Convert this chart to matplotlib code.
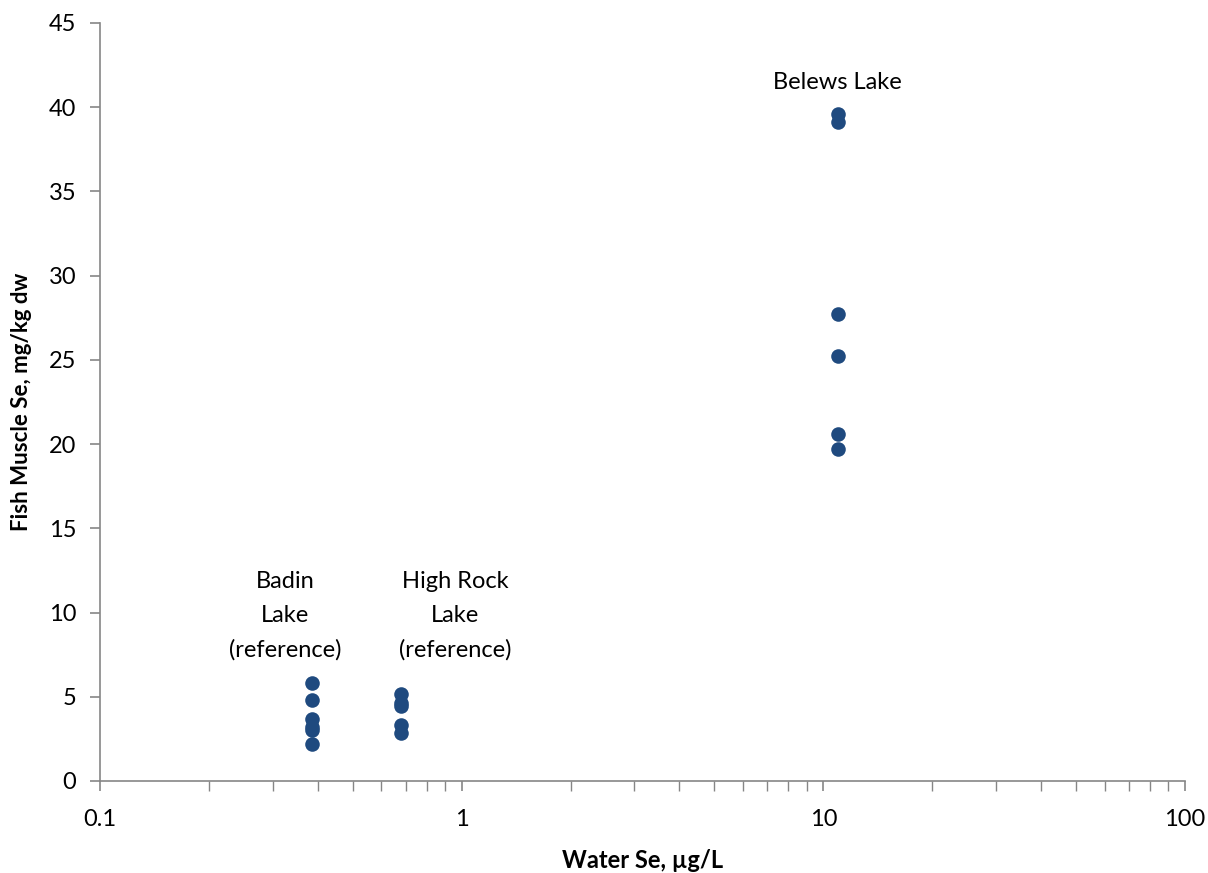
import numpy as np
import matplotlib.pyplot as plt
from matplotlib.ticker import LogLocator, NullFormatter, FixedLocator

plt.rcParams['font.family'] = ['Lato', 'DejaVu Sans']

# data
badin_x = [0.385] * 6
badin_y = [5.8, 4.8, 3.7, 3.2, 3.0, 2.2]
highrock_x = [0.68] * 5
highrock_y = [5.15, 4.65, 4.45, 3.3, 2.85]
belews_x = [11.0] * 6
belews_y = [39.6, 39.1, 27.7, 25.2, 20.6, 19.7]

labels = ["Badin\nLake\n(reference)", "High Rock\nLake\n(reference)", "Belews Lake"]
label_x = [0.325, 0.96, 10.9]
label_y = [9.8, 9.8, 41.45]

fig = plt.figure(figsize=(12.08, 8.73), dpi=100)
ax = fig.add_axes([0.0828, 0.1054, 0.8982, 0.8683])

col = '#1f4a7f'
for xs, ys in [(badin_x, badin_y), (highrock_x, highrock_y), (belews_x, belews_y)]:
    ax.scatter(xs, ys, s=110, color=col, zorder=3, linewidths=0)

for t, lx, ly in zip(labels, label_x, label_y):
    ax.text(lx, ly, t, ha='center', va='center', fontsize=17, linespacing=1.75)

ax.set_xscale('log')
ax.set_xlim(0.1, 100)
ax.set_ylim(0, 45)
ax.yaxis.set_major_locator(FixedLocator(np.arange(0, 46, 5)))
ax.set_xticks([0.1, 1, 10, 100])
ax.set_xticklabels(['0.1', '1', '10', '100'])
ax.xaxis.set_minor_locator(LogLocator(base=10, subs=np.arange(2, 10)))
ax.xaxis.set_minor_formatter(NullFormatter())

for s in ['top', 'right']:
    ax.spines[s].set_visible(False)
for s in ['left', 'bottom']:
    ax.spines[s].set_color('#868686')
    ax.spines[s].set_linewidth(1.2)

ax.tick_params(axis='both', which='major', labelsize=17, color='#868686',
               length=7, width=1.2, direction='out')
ax.tick_params(axis='x', which='major', pad=13)
ax.tick_params(axis='x', which='minor', color='#868686', length=7, width=1.0,
               direction='out')
ax.tick_params(axis='y', which='major', pad=10)

ax.set_xlabel('Water Se, µg/L', fontsize=17, fontweight='bold', labelpad=14)
ax.set_ylabel('Fish Muscle Se, mg/kg dw', fontsize=16, fontweight='bold', labelpad=12)

fig.savefig('out.png', dpi=100)
